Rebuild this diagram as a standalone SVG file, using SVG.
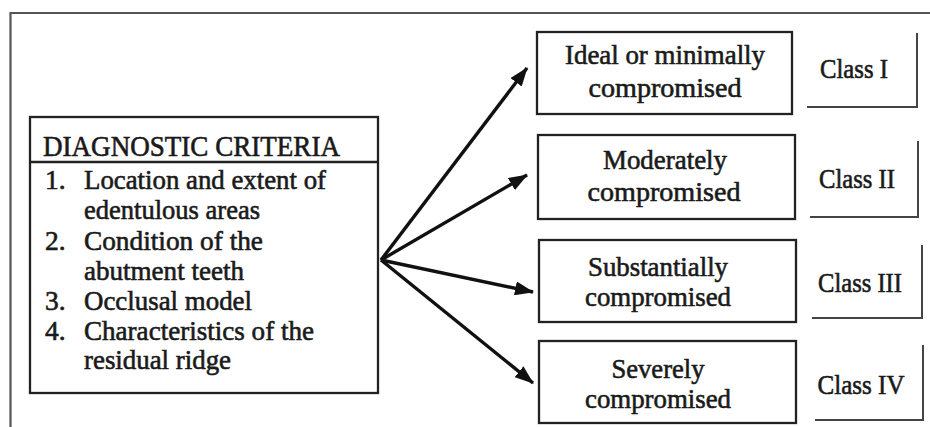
<svg xmlns="http://www.w3.org/2000/svg" width="930" height="427" viewBox="0 0 930 427">
<style>
text{font-family:"Liberation Serif","Times New Roman",serif;fill:#1a1a1a;stroke:#1a1a1a;stroke-width:0.6}
.box{fill:#fff;stroke:#222;stroke-width:2.3}
.frame{fill:none;stroke:#555;stroke-width:2.2}
.br{fill:none;stroke:#444;stroke-width:2}
.lst{font-size:27.5px}
.hd{font-size:28.5px}
.rt{font-size:27.5px;text-anchor:middle}
.arr{stroke:#111;stroke-width:3.4;fill:none;marker-end:url(#ah)}
</style>
<defs>
<marker id="ah" markerUnits="userSpaceOnUse" markerWidth="19" markerHeight="14" refX="18" refY="7" orient="auto">
<path d="M0,0 L19,7 L0,14 z" fill="#111"/>
</marker>
</defs>
<rect width="930" height="427" fill="#fff"/>
<path class="frame" d="M10.5,427 L10.5,13 L930,13"/>

<g id="criteria">
<rect class="box" x="30" y="117" width="348" height="276"/>
<line x1="30" y1="162" x2="378" y2="162" stroke="#222" stroke-width="2.3"/>
<text class="hd" x="43" y="156" textLength="297" lengthAdjust="spacingAndGlyphs">DIAGNOSTIC CRITERIA</text>
<text class="lst" x="45" y="189">1.</text>
<text class="lst" x="84" y="189" textLength="242" lengthAdjust="spacingAndGlyphs">Location and extent of</text>
<text class="lst" x="84" y="219" textLength="176" lengthAdjust="spacingAndGlyphs">edentulous areas</text>
<text class="lst" x="45" y="250">2.</text>
<text class="lst" x="84" y="250" textLength="179" lengthAdjust="spacingAndGlyphs">Condition of the</text>
<text class="lst" x="84" y="280" textLength="160" lengthAdjust="spacingAndGlyphs">abutment teeth</text>
<text class="lst" x="45" y="310">3.</text>
<text class="lst" x="84" y="310" textLength="168" lengthAdjust="spacingAndGlyphs">Occlusal model</text>
<text class="lst" x="45" y="340">4.</text>
<text class="lst" x="84" y="340" textLength="230" lengthAdjust="spacingAndGlyphs">Characteristics of the</text>
<text class="lst" x="84" y="369" textLength="147" lengthAdjust="spacingAndGlyphs">residual ridge</text>
</g>

<g id="connectors">
<line class="arr" x1="381" y1="260" x2="527" y2="68"/>
<line class="arr" x1="381" y1="260" x2="527" y2="175"/>
<line class="arr" x1="381" y1="260" x2="533" y2="292"/>
<line class="arr" x1="381" y1="260" x2="533" y2="383"/>
</g>

<g id="ideal">
<rect class="box" x="537" y="32" width="255" height="82"/>
<text class="rt" x="665" y="64" textLength="200" lengthAdjust="spacingAndGlyphs">Ideal or minimally</text>
<text class="rt" x="665" y="97" textLength="153" lengthAdjust="spacingAndGlyphs">compromised</text>
</g>
<g id="class1">
<path class="br" d="M917,33 L917,107 L807,107"/>
<text class="rt" x="854" y="78" textLength="68" lengthAdjust="spacingAndGlyphs">Class I</text>
</g>

<g id="moderately">
<rect class="box" x="538" y="135" width="257" height="84"/>
<text class="rt" x="665" y="169" textLength="124" lengthAdjust="spacingAndGlyphs">Moderately</text>
<text class="rt" x="664" y="201" textLength="153" lengthAdjust="spacingAndGlyphs">compromised</text>
</g>
<g id="class2">
<path class="br" d="M918,141 L918,217 L810,217"/>
<text class="rt" x="857" y="188" textLength="76" lengthAdjust="spacingAndGlyphs">Class II</text>
</g>

<g id="substantially">
<rect class="box" x="539" y="240" width="257" height="82"/>
<text class="rt" x="658" y="276" textLength="140" lengthAdjust="spacingAndGlyphs">Substantially</text>
<text class="rt" x="658" y="306" textLength="146" lengthAdjust="spacingAndGlyphs">compromised</text>
</g>
<g id="class3">
<path class="br" d="M922,245 L922,318 L812,318"/>
<text class="rt" x="860" y="292" textLength="84" lengthAdjust="spacingAndGlyphs">Class III</text>
</g>

<g id="severely">
<rect class="box" x="539" y="341" width="257" height="82"/>
<text class="rt" x="658" y="378" textLength="93" lengthAdjust="spacingAndGlyphs">Severely</text>
<text class="rt" x="658" y="408" textLength="146" lengthAdjust="spacingAndGlyphs">compromised</text>
</g>
<g id="class4">
<path class="br" d="M923,345 L923,420 L815,420"/>
<text class="rt" x="861" y="394" textLength="87" lengthAdjust="spacingAndGlyphs">Class IV</text>
</g>
</svg>
